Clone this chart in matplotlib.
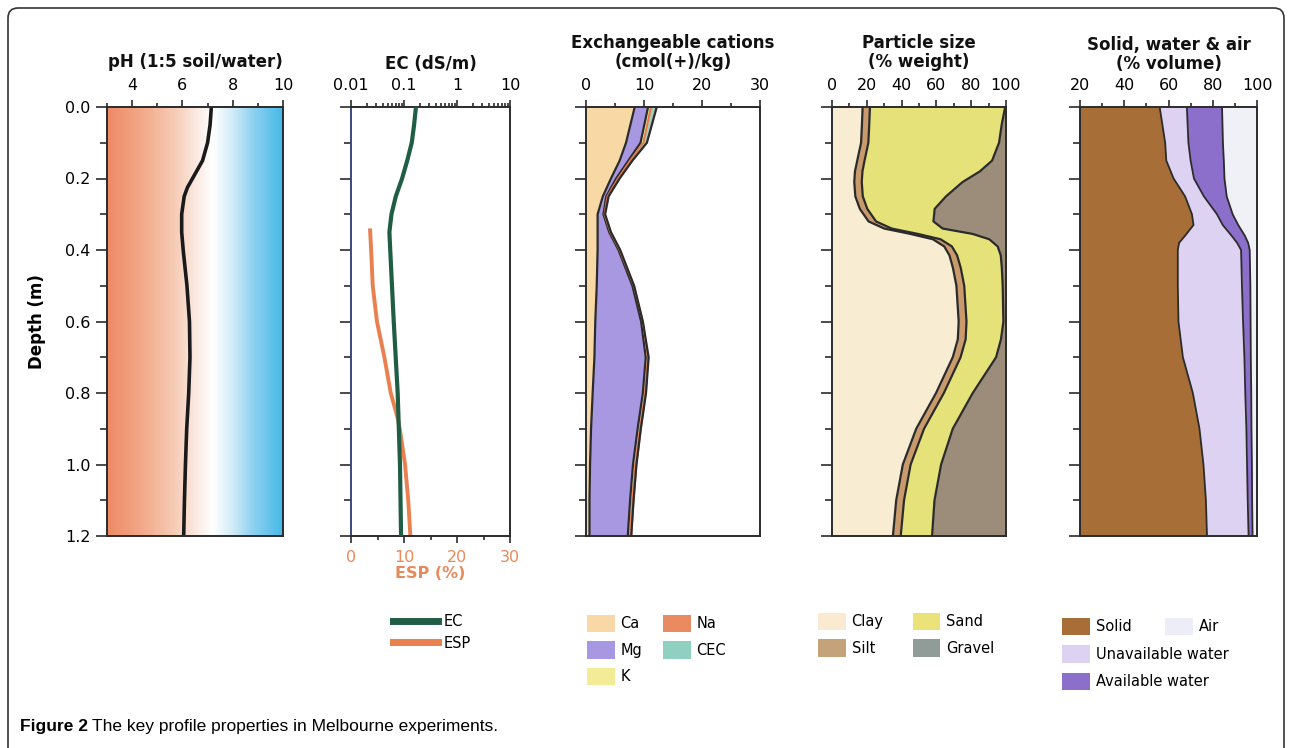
import numpy as np
import matplotlib.pyplot as plt
from matplotlib.colors import LinearSegmentedColormap
from matplotlib.lines import Line2D
from matplotlib.patches import Patch, FancyBboxPatch
from matplotlib.ticker import MultipleLocator, LogLocator, NullFormatter, FormatStrFormatter
from matplotlib.transforms import IdentityTransform

plt.rcParams['font.family'] = 'DejaVu Sans'

# ---- pH profile
ph_depth = [0, 0.05, 0.1, 0.15, 0.175, 0.2, 0.225, 0.25, 0.3, 0.35, 0.4, 0.5, 0.6, 0.7, 0.8, 0.9, 1.0, 1.1, 1.2]
ph_value = [7.15, 7.1, 7.0, 6.8, 6.6, 6.4, 6.2, 6.07, 5.97, 5.97, 6.03, 6.18, 6.28, 6.3, 6.25, 6.17, 6.12, 6.08, 6.05]

# ---- EC (dS/m) and ESP (%)
ec_depth = [0, 0.05, 0.1, 0.15, 0.2, 0.25, 0.3, 0.35, 0.4, 0.6, 0.8, 1.0, 1.2]
ec_value = [0.168, 0.155, 0.14, 0.115, 0.092, 0.07, 0.058, 0.053, 0.055, 0.064, 0.076, 0.084, 0.088]
esp_depth = [0.345, 0.4, 0.5, 0.6, 0.7, 0.8, 0.87, 0.9, 1.0, 1.1, 1.2]
esp_value = [3.6, 3.8, 4.1, 4.9, 6.3, 7.5, 8.8, 9.2, 10.2, 10.8, 11.2]

# ---- exchangeable cations (cmol(+)/kg)
cat_depth = [0, 0.1, 0.15, 0.2, 0.25, 0.3, 0.35, 0.4, 0.5, 0.6, 0.7, 0.8, 0.9, 1.0, 1.1, 1.2]
ca = [8.4, 6.9, 5.8, 4.3, 2.9, 2.0, 2.0, 2.0, 1.85, 1.6, 1.45, 1.15, 0.87, 0.7, 0.6, 0.6]
mg = [2.3, 2.5, 1.5, 0.9, 0.6, 1.0, 2.0, 3.6, 6.15, 7.9, 8.85, 8.65, 8.03, 7.4, 7.0, 6.6]
k = [0.3, 0.3, 0.2, 0.2, 0.1, 0.1, 0.1, 0.1, 0.1, 0.1, 0.1, 0.1, 0.1, 0.1, 0.1, 0.1]
na = [0.2, 0.2, 0.1, 0.1, 0.1, 0.1, 0.1, 0.1, 0.15, 0.2, 0.3, 0.4, 0.45, 0.5, 0.5, 0.5]
cec = [12.2, 10.5, 8.0, 5.8, 3.9, 3.3, 4.3, 5.9, 8.3, 9.8, 10.8, 10.35, 9.45, 8.7, 8.2, 7.8]

# ---- particle size (% weight)
ps_depth = [0, 0.05, 0.1, 0.15, 0.18, 0.21, 0.25, 0.285, 0.32, 0.34, 0.355, 0.37,
            0.39, 0.415, 0.45, 0.5, 0.6, 0.65, 0.7, 0.8, 0.9, 1.0, 1.1, 1.2]
clay = [17.6, 17.2, 16.7, 14.5, 13.2, 12.8, 13.4, 16.0, 21.0, 30.0, 45.0, 58.0,
        64.5, 67.5, 69.5, 71.5, 72.8, 72.3, 69.4, 59.8, 48.4, 40.7, 36.9, 35.0]
silt = [4.2, 4.2, 4.2, 4.2, 4.3, 4.3, 4.3, 4.3, 4.3, 4.3, 4.4, 4.4,
        4.4, 4.4, 4.5, 4.5, 4.5, 4.5, 4.5, 4.5, 4.5, 4.5, 4.5, 4.5]
sand = [77.7, 76.1, 75.1, 73.3, 67.5, 57.9, 47.8, 38.7, 33.0, 29.3, 31.4, 28.0,
        26.3, 25.1, 23.6, 22.1, 21.2, 20.3, 20.4, 16.6, 16.5, 17.5, 17.5, 18.0]
gravel = [0.5, 2.5, 4.0, 8.0, 15.0, 25.0, 34.5, 41.0, 41.7, 36.4, 19.2, 9.6,
          4.8, 3.0, 2.4, 1.9, 1.5, 2.9, 5.7, 19.1, 30.6, 37.3, 41.1, 42.5]

# ---- solid, water & air (% volume)
sw_depth = [0, 0.1, 0.15, 0.2, 0.25, 0.3, 0.33, 0.36, 0.38, 0.4, 0.5, 0.6, 0.7, 0.8, 0.9, 1.0, 1.1, 1.2]
solid = [56, 58.5, 59, 62.3, 67.5, 70.6, 71.3, 67.5, 64.8, 64.2, 64.2, 64.5, 66.5, 71, 74, 75.8, 76.9, 77.4]
unavail = [12.3, 10.5, 11, 9.2, 8.5, 11.3, 13.2, 21, 26.2, 28.6, 29, 29.2, 27.8, 23.7, 21.2, 19.7, 18.9, 18.8]
avail = [15.9, 15.6, 15, 13.8, 10.3, 7.1, 7, 6, 5, 3.9, 3.8, 3.4, 2.9, 2.7, 2.3, 2.2, 2.0, 1.8]
air = [15.8, 15.4, 15, 14.7, 13.7, 11, 8.5, 5.5, 4, 3.3, 3, 2.9, 2.8, 2.6, 2.5, 2.3, 2.2, 2.0]

EDGE = '#2b2b2b'
EC_COLOR = '#1f5e44'
ESP_COLOR = '#e8804f'
ESP_TEXT = '#e8895a'

W, H = 1290, 748
fig = plt.figure(figsize=(12.9, 7.48), dpi=100)


def add_panel(x0, x1, y0=107, y1=536):
    return fig.add_axes([x0 / W, 1 - y1 / H, (x1 - x0) / W, (y1 - y0) / H])


def style_panel(ax, labels=False):
    ax.set_ylim(1.2, 0)
    ax.yaxis.set_major_locator(MultipleLocator(0.2))
    ax.yaxis.set_minor_locator(MultipleLocator(0.1))
    ax.xaxis.tick_top()
    ax.tick_params(which='both', direction='out', color=EDGE, width=1.2, labelsize=11.5)
    ax.tick_params(which='major', length=5, pad=5)
    ax.tick_params(which='minor', length=3)
    ax.tick_params(axis='y', which='major', length=8, pad=4)
    ax.tick_params(axis='y', which='minor', length=5)
    if labels:
        ax.yaxis.set_major_formatter(FormatStrFormatter('%.1f'))
    else:
        ax.tick_params(axis='y', labelleft=False)
    for s in ax.spines.values():
        s.set_linewidth(1.4)
        s.set_color(EDGE)


def panel_title(ax, text, bottom_px=72):
    box = ax.get_position()
    fig.text((box.x0 + box.x1) / 2, 1 - bottom_px / H, text, ha='center', va='bottom',
             fontsize=12, fontweight='bold', linespacing=1.1, color='#111111')


def stacked(ax, depth, parts, colors, start=0.0):
    tops = np.cumsum(np.vstack(parts), axis=0)
    lower = np.full(len(depth), start)
    for top, c in zip(tops, colors):
        ax.fill_betweenx(depth, lower, top, color=c, lw=0)
        lower = top
    return tops


# ---------- pH
ax1 = add_panel(107, 283)
ph_cmap = LinearSegmentedColormap.from_list('ph', [
    (0.0, '#ee8a66'), (0.21, '#f3ab8c'), (0.38, '#f6cbb6'), (0.5, '#fbe8df'),
    (0.6, '#ffffff'), (0.71, '#d4ecf8'), (0.83, '#8fd2f0'), (1.0, '#45b9e8')])
ax1.imshow(np.linspace(0, 1, 256)[None, :], extent=[3, 10, 1.2, 0], aspect='auto', cmap=ph_cmap)
ax1.plot(ph_value, ph_depth, color='#1a1a1a', lw=2.6, solid_capstyle='butt')
ax1.set_xlim(3, 10)
ax1.xaxis.set_major_locator(MultipleLocator(2))
ax1.xaxis.set_minor_locator(MultipleLocator(1))
style_panel(ax1, labels=True)
ax1.set_xticks([4, 6, 8, 10])
panel_title(ax1, 'pH (1:5 soil/water)', 71)
fig.text(37 / W, 1 - 322 / H, 'Depth (m)', rotation=90, ha='center', va='center',
         fontsize=12, fontweight='bold')

# ---------- EC / ESP
ax2 = add_panel(351, 510)
style_panel(ax2)
ax2.xaxis.tick_bottom()
ax2.set_xlim(0, 30)
ax2.xaxis.set_major_locator(MultipleLocator(10))
ax2.xaxis.set_minor_locator(MultipleLocator(5))
ax2.tick_params(axis='x', labelcolor=ESP_TEXT)
ax2.set_xlabel('ESP (%)', color=ESP_TEXT, fontsize=11.5, fontweight='bold', labelpad=1)
ax2.spines['left'].set_color('#3a4a80')
ax2.plot(esp_value, esp_depth, color=ESP_COLOR, lw=2.8)
ax2b = ax2.twiny()
ax2b.set_xscale('log')
ax2b.set_xlim(0.01, 10)
ax2b.plot(ec_value, ec_depth, color=EC_COLOR, lw=3)
ax2b.xaxis.set_major_locator(LogLocator(base=10))
ax2b.xaxis.set_minor_locator(LogLocator(base=10, subs=np.arange(2, 10)))
ax2b.xaxis.set_minor_formatter(NullFormatter())
ax2b.set_xticks([0.01, 0.1, 1, 10])
ax2b.set_xticklabels(['0.01', '0.1', '1', '10'])
ax2b.tick_params(which='both', direction='out', color=EDGE, width=1.2, labelsize=11.5)
ax2b.tick_params(which='major', length=5, pad=5)
ax2b.tick_params(which='minor', length=3)
for s in ax2b.spines.values():
    s.set_visible(False)
panel_title(ax2, 'EC (dS/m)', 73)

# ---------- exchangeable cations
ax3 = add_panel(586, 760)
cat_tops = stacked(ax3, cat_depth, [ca, mg, k, na], ['#f8d8a4', '#a898e2', '#f2ec96', '#e98a60'])
ax3.fill_betweenx(cat_depth, cat_tops[-1], cec, color='#a9c9b9', lw=0)
for line in (cat_tops[0], cat_tops[1]):
    ax3.plot(line, cat_depth, color=EDGE, lw=1.6)
ax3.plot(cat_tops[3], cat_depth, color='#e27a4c', lw=1.4)
ax3.plot(cec, cat_depth, color=EDGE, lw=1.6)
ax3.set_xlim(0, 30)
ax3.xaxis.set_major_locator(MultipleLocator(10))
ax3.xaxis.set_minor_locator(MultipleLocator(5))
style_panel(ax3)
panel_title(ax3, 'Exchangeable cations\n(cmol(+)/kg)', 71)

# ---------- particle size
ax4 = add_panel(832, 1006)
ps_tops = stacked(ax4, ps_depth, [clay, silt, sand, gravel], ['#f8ecd2', '#c99a6c', '#e6e27a', '#9c8c7a'])
for line in ps_tops[:3]:
    ax4.plot(line, ps_depth, color=EDGE, lw=1.6)
ax4.set_xlim(0, 100)
ax4.xaxis.set_major_locator(MultipleLocator(20))
ax4.xaxis.set_minor_locator(MultipleLocator(10))
style_panel(ax4)
panel_title(ax4, 'Particle size\n(% weight)', 71)

# ---------- solid, water & air
ax5 = add_panel(1080, 1257)
sw_tops = stacked(ax5, sw_depth, [solid, unavail, avail, air],
                  ['#a86e38', '#ddd2f2', '#8b6fca', '#f0f0f7'])
for line in sw_tops[:3]:
    ax5.plot(line, sw_depth, color=EDGE, lw=1.3)
ax5.set_xlim(20, 100)
ax5.xaxis.set_major_locator(MultipleLocator(20))
ax5.xaxis.set_minor_locator(MultipleLocator(10))
style_panel(ax5)
panel_title(ax5, 'Solid, water & air\n(% volume)', 73)


# ---------- legends
def add_legend(handles, labels, x_px, y_px, ncol=1, **kw):
    opts = dict(loc='upper left', bbox_to_anchor=(x_px / W, 1 - y_px / H), ncol=ncol,
                frameon=False, fontsize=10.5, borderpad=0, borderaxespad=0,
                handlelength=1.9, handleheight=1.45, handletextpad=0.4,
                labelspacing=0.62, columnspacing=1.42)
    opts.update(kw)
    fig.legend(handles, labels, **opts)


add_legend([Line2D([], [], color=EC_COLOR, lw=5), Line2D([], [], color=ESP_COLOR, lw=5)],
           ['EC', 'ESP'], 393, 614, handlelength=3.1, handleheight=0.7, labelspacing=0.45)
add_legend([Patch(fc=c, ec='none') for c in ['#f8d8a4', '#a898e2', '#f2ec96', '#e98a60', '#8fd0c0']],
           ['Ca', 'Mg', 'K', 'Na', 'CEC'], 587, 615, ncol=2)
add_legend([Patch(fc=c, ec='none') for c in ['#faebd0', '#c4a27a', '#ece27a', '#8f9c98']],
           ['Clay', 'Silt', 'Sand', 'Gravel'], 818, 613, ncol=2, columnspacing=2.0)
add_legend([Patch(fc=c, ec='none') for c in ['#a86e38', '#ddd2f2', '#8b6fca']],
           ['Solid', 'Unavailable water', 'Available water'], 1062, 618, labelspacing=0.69)
add_legend([Patch(fc='#ecedf6', ec='none')], ['Air'], 1165, 618)

# ---------- frame and caption
frame = FancyBboxPatch((8, -30), 1276, H - 8 + 30, boxstyle='round,pad=0,rounding_size=10',
                       transform=IdentityTransform(), fill=False, ec='#333333', lw=1.2)
fig.add_artist(frame)

cap1 = fig.text(20 / W, 1 - 727 / H, 'Figure 2', fontweight='bold', fontsize=12.5,
                family='Liberation Sans', va='center')
fig.canvas.draw()
bb = cap1.get_window_extent()
fig.text((bb.x1 + 4) / W, 1 - 727 / H, 'The key profile properties in Melbourne experiments.',
         fontsize=12.5, family='Liberation Sans', va='center')

fig.savefig('out.png', dpi=100)
